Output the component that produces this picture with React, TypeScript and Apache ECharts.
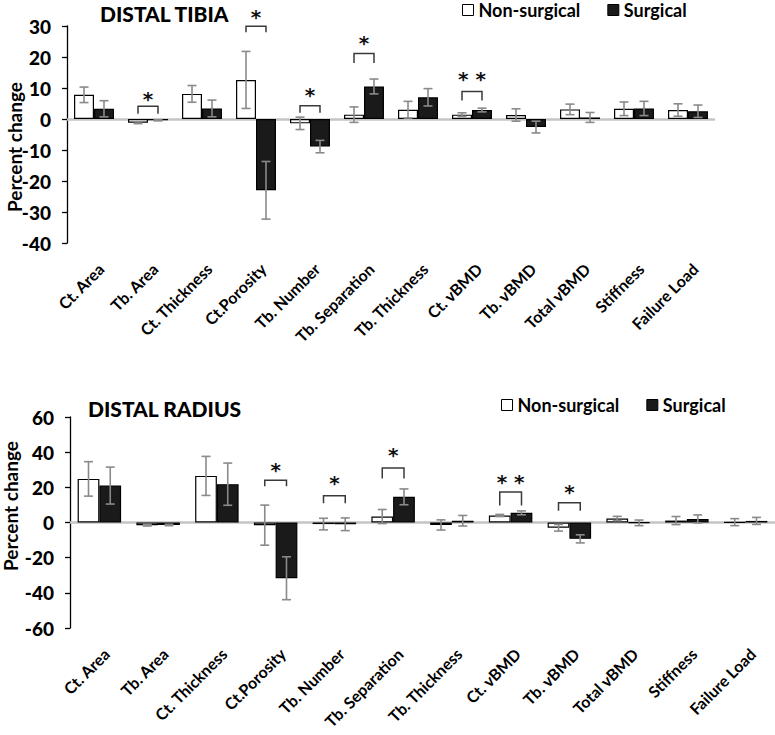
import React, { useEffect, useRef } from "react";
import * as echarts from "echarts";

const categories = [
  "Ct. Area", "Tb. Area", "Ct. Thickness", "Ct.Porosity", "Tb. Number", "Tb. Separation",
  "Tb. Thickness", "Ct. vBMD", "Tb. vBMD", "Total vBMD", "Stiffness", "Failure Load",
];

const tibiaNonSurgical = [7.8, -1.2, 8.1, 12.6, -1.4, 1.4, 3.0, 1.4, 1.3, 3.1, 3.3, 2.9];
const tibiaNonSurgicalErr = [2.5, 0.3, 2.7, 9.2, 2.0, 2.5, 2.7, 0.6, 2.0, 1.7, 2.2, 2.0];
const tibiaSurgical = [3.3, -0.4, 3.4, -23.0, -8.9, 10.5, 7.0, 2.9, -2.6, 0.5, 3.4, 2.5];
const tibiaSurgicalErr = [2.6, 0.2, 2.7, 9.3, 2.0, 2.4, 2.8, 0.6, 1.9, 1.6, 2.3, 2.0];

const radiusNonSurgical = [24.8, -1.5, 26.5, -1.5, -0.9, 3.4, -1.4, 4.0, -3.0, 2.3, 1.1, 0.2];
const radiusNonSurgicalErr = [9.8, 0.5, 11.1, 11.4, 3.3, 4.0, 2.9, 0.6, 1.9, 1.2, 2.3, 2.0];
const radiusSurgical = [21.0, -1.4, 21.8, -31.7, -1.0, 14.6, 1.0, 5.5, -9.3, -0.2, 2.0, 0.9];
const radiusSurgicalErr = [10.5, 0.4, 12.0, 12.2, 3.6, 4.5, 3.0, 1.1, 2.3, 1.6, 2.3, 2.0];

// [category index, bracket top, leg bottom, star position, star label]
const tibiaSig: [number, number, number, number, string][] = [
  [1, 4.1, 1.7, 6.6, "*"],
  [3, 29.9, 28.0, 33.0, "*"],
  [4, 4.3, 2.0, 7.6, "*"],
  [5, 21.1, 18.1, 24.6, "*"],
  [7, 8.9, 6.0, 13.0, "**"],
];
const radiusSig: [number, number, number, number, string][] = [
  [3, 24.0, 20.6, 30.0, "*"],
  [4, 15.2, 11.0, 22.3, "*"],
  [5, 31.0, 25.0, 38.2, "*"],
  [7, 17.3, 9.7, 23.3, "**"],
  [8, 11.2, 6.7, 17.5, "*"],
];

const tibiaTicks = { min: -40, max: 30, interval: 10 };
const radiusTicks = { min: -60, max: 60, interval: 20 };

const FONT = "Lato";
const BAR_W = 0.37;

function errorSeries(grid: number, ns: number[], nsE: number[], s: number[], sE: number[]) {
  return {
    type: "custom",
    name: "err" + grid,
    xAxisIndex: grid,
    yAxisIndex: grid,
    z: 5,
    silent: true,
    data: categories.map((_, i) => [i, ns[i], nsE[i], s[i], sE[i]]),
    encode: { x: 0, y: 1 },
    renderItem: (params: any, api: any) => {
      const idx = api.value(0);
      const band = api.size([1, 0])[0];
      const off = (band * BAR_W) / 2;
      const cap = 4.5;
      const children: any[] = [];
      const pairs = [
        [api.value(1), api.value(2), -off],
        [api.value(3), api.value(4), off],
      ];
      for (const [v, e, o] of pairs) {
        const top = api.coord([idx, v + e]);
        const bot = api.coord([idx, v - e]);
        const x = top[0] + o;
        const st = { stroke: "#8a8a8a", lineWidth: 1.6 };
        children.push({ type: "line", shape: { x1: x, y1: top[1], x2: x, y2: bot[1] }, style: st });
        children.push({ type: "line", shape: { x1: x - cap, y1: top[1], x2: x + cap, y2: top[1] }, style: st });
        children.push({ type: "line", shape: { x1: x - cap, y1: bot[1], x2: x + cap, y2: bot[1] }, style: st });
      }
      return { type: "group", children };
    },
  };
}

function sigSeries(grid: number, sig: [number, number, number, number, string][]) {
  return {
    type: "custom",
    name: "sig" + grid,
    xAxisIndex: grid,
    yAxisIndex: grid,
    z: 6,
    silent: true,
    data: sig.map((d) => [d[0], d[1], d[2], d[3]]),
    encode: { x: 0, y: 1 },
    renderItem: (params: any, api: any) => {
      const idx = api.value(0);
      const band = api.size([1, 0])[0];
      const off = (band * BAR_W) / 2;
      const c = api.coord([idx, api.value(1)]);
      const leg = api.coord([idx, api.value(2)]);
      const star = api.coord([idx, api.value(3)]);
      const x1 = c[0] - off;
      const x2 = c[0] + off;
      const st = { stroke: "#3a3a3a", lineWidth: 1.5, fill: "none" };
      return {
        type: "group",
        children: [
          {
            type: "polyline",
            shape: { points: [[x1, leg[1]], [x1, c[1]], [x2, c[1]], [x2, leg[1]]] },
            style: st,
          },
          {
            type: "text",
            x: c[0],
            y: star[1],
            style: {
              text: sig[params.dataIndex][4] === "**" ? "* *" : "*",
              fill: "#111",
              font: "bold 20px 'DejaVu Sans'",
              textAlign: "center",
              textVerticalAlign: "middle",
            },
          },
        ],
      };
    },
  };
}

function labelSeries(grid: number, bottom: number) {
  return {
    type: "custom",
    name: "labels" + grid,
    xAxisIndex: grid,
    yAxisIndex: grid,
    z: 6,
    silent: true,
    clip: false,
    data: categories.map((_, i) => [i, bottom]),
    encode: { x: 0, y: 1 },
    renderItem: (params: any, api: any) => {
      const p = api.coord([api.value(0), api.value(1)]);
      return {
        type: "text",
        x: p[0] + 7,
        y: p[1] + 23,
        rotation: Math.PI / 4,
        style: {
          text: categories[params.dataIndex],
          fill: "#000",
          font: `bold 16px ${FONT}`,
          textAlign: "right",
          textVerticalAlign: "middle",
        },
      };
    },
  };
}

function barSeries(name: string, grid: number, data: number[], dark: boolean, withZero: boolean) {
  const s: any = {
    type: "bar",
    name,
    xAxisIndex: grid,
    yAxisIndex: grid,
    data,
    barWidth: BAR_W * 100 + "%",
    barGap: "0%",
    z: 3,
    itemStyle: { color: dark ? "#1a1a1a" : "#ffffff", borderColor: "#000", borderWidth: 1.2 },
  };
  if (withZero) {
    s.markLine = {
      silent: true,
      symbol: "none",
      z: 1,
      label: { show: false },
      lineStyle: { color: "#c4c4c4", width: 2.5, type: "solid" },
      data: [{ yAxis: 0 }],
    };
  }
  return s;
}

function xAxis(grid: number) {
  return {
    type: "category",
    gridIndex: grid,
    data: categories,
    axisLine: { show: false },
    axisTick: { show: false },
    axisLabel: { show: false },
  };
}

function yAxis(grid: number, t: { min: number; max: number; interval: number }) {
  return {
    type: "value",
    gridIndex: grid,
    min: t.min,
    max: t.max,
    interval: t.interval,
    splitLine: { show: false },
    axisLine: { show: true, lineStyle: { color: "#000", width: 1.3 } },
    axisTick: { show: true, inside: false, length: 5, lineStyle: { color: "#000", width: 1.3 } },
    axisLabel: { color: "#000", fontFamily: FONT, fontWeight: 900, fontSize: 19, margin: 16 },
  };
}

function legend(left: number, top: number) {
  return {
    left,
    top,
    padding: 0,
    icon: "rect",
    itemWidth: 11,
    itemHeight: 11,
    itemGap: 27,
    selectedMode: false,
    textStyle: { color: "#000", fontFamily: FONT, fontWeight: "bold", fontSize: 18, lineHeight: 18 },
    data: [
      { name: "Non-surgical", itemStyle: { color: "#fff", borderColor: "#000", borderWidth: 1 } },
      { name: "Surgical", itemStyle: { color: "#1a1a1a", borderColor: "#000", borderWidth: 1 } },
    ],
  };
}

export default function App() {
  const ref = useRef<HTMLDivElement>(null);
  useEffect(() => {
    document.body.style.margin = "0";
    if (!ref.current) return;
    const chart = echarts.init(ref.current, null, { renderer: "svg" });
    chart.setOption({
      animation: false,
      backgroundColor: "#fff",
      grid: [
        { left: 67, top: 26, width: 648, height: 217, containLabel: false },
        { left: 70, top: 417, width: 705, height: 211, containLabel: false },
      ],
      legend: [legend(462, 1), legend(501, 396)],
      xAxis: [xAxis(0), xAxis(1)],
      yAxis: [yAxis(0, tibiaTicks), yAxis(1, radiusTicks)],
      graphic: [
        {
          type: "text",
          left: 100,
          top: 3,
          style: { text: "DISTAL TIBIA", fill: "#000", font: `900 21px ${FONT}` },
        },
        {
          type: "text",
          left: 88,
          top: 398,
          style: { text: "DISTAL RADIUS", fill: "#000", font: `900 21px ${FONT}` },
        },
        {
          type: "text",
          x: 14,
          y: 147,
          rotation: Math.PI / 2,
          style: {
            text: "Percent change",
            fill: "#000",
            font: `bold 19px ${FONT}`,
            textAlign: "center",
            textVerticalAlign: "middle",
          },
        },
        {
          type: "text",
          x: 10,
          y: 506,
          rotation: Math.PI / 2,
          style: {
            text: "Percent change",
            fill: "#000",
            font: `bold 19px ${FONT}`,
            textAlign: "center",
            textVerticalAlign: "middle",
          },
        },
      ],
      series: [
        barSeries("Non-surgical", 0, tibiaNonSurgical, false, true),
        barSeries("Surgical", 0, tibiaSurgical, true, false),
        barSeries("Non-surgical", 1, radiusNonSurgical, false, true),
        barSeries("Surgical", 1, radiusSurgical, true, false),
        errorSeries(0, tibiaNonSurgical, tibiaNonSurgicalErr, tibiaSurgical, tibiaSurgicalErr),
        errorSeries(1, radiusNonSurgical, radiusNonSurgicalErr, radiusSurgical, radiusSurgicalErr),
        sigSeries(0, tibiaSig),
        sigSeries(1, radiusSig),
        labelSeries(0, tibiaTicks.min),
        labelSeries(1, radiusTicks.min),
      ],
    });
    return () => chart.dispose();
  }, []);
  return <div ref={ref} style={{ width: 775, height: 735 }} />;
}
